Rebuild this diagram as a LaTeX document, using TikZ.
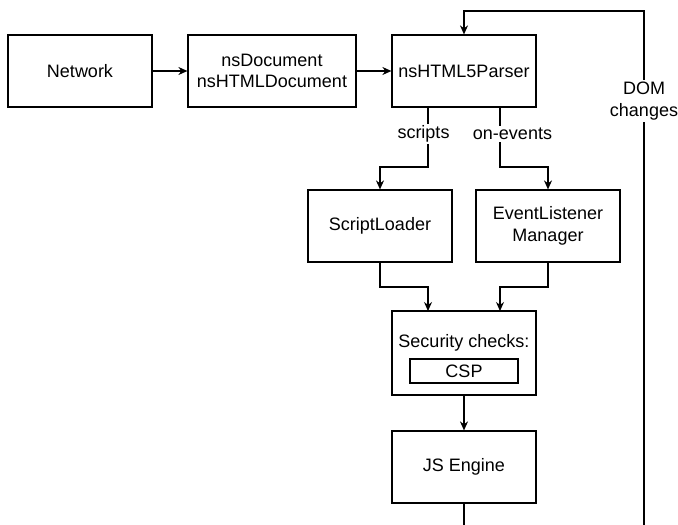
\documentclass[tikz,border=0pt]{standalone}
\usepackage{fontspec}
\setmainfont{Liberation Sans}
\usetikzlibrary{arrows.meta}
\begin{document}
\begin{tikzpicture}[x=1pt,y=-1pt,
  txt/.style={font=\fontsize{18}{21.6}\selectfont, align=center, inner sep=0pt},
  box/.style={txt, draw, line width=1.2pt, minimum width=144pt, minimum height=72pt},
  conn/.style={line width=1.2pt, -{Stealth[length=9pt,width=8pt]}},
  lbl/.style={txt, fill=white, inner sep=2pt}
]
\useasboundingbox (0,0) rectangle (678,525);
\clip (0,0) rectangle (678,525);

\node[box] (net) at (80,71) {Network};
\node[box, minimum width=168pt] (doc) at (272,71) {nsDocument\\nsHTMLDocument};
\node[box] (parser) at (464,71) {nsHTML5Parser};
\node[box] (sl) at (380,226) {ScriptLoader};
\node[box] (el) at (548,226) {EventListener\\Manager};
\node[box, minimum height=84pt] (sec) at (464,353) {};
\node[txt] (sectxt) at (464,343) {Security checks:};
\node[txt, draw, line width=1.2pt, minimum width=108pt, minimum height=24pt] (csp) at (464,371) {CSP};
\node[box] (js) at (464,467) {JS Engine};

\coordinate (pL) at (428,107);
\coordinate (pR) at (500,107);
\coordinate (sL) at (428,311);
\coordinate (sR) at (500,311);
\coordinate (b1) at (464,545);
\coordinate (b2) at (644,545);
\coordinate (t1) at (644,11);
\coordinate (t2) at (464,11);

\draw[conn] (net) -- (doc);
\draw[conn] (doc) -- (parser);
\draw[conn] (pL) |- (380,167) -- (sl.north);
\draw[conn] (pR) |- (548,167) -- (el.north);
\draw[conn] (sl.south) |- (428,287) -- (sL);
\draw[conn] (el.south) |- (500,287) -- (sR);
\draw[conn] (sec) -- (js);
\draw[conn] (js.south) -- (b1) -- (b2) -- (t1) -- (t2) -- (parser.north);

\node[lbl] (lscripts) at (423.5,134) {scripts};
\node[lbl] (levents) at (512.5,134) {on-events};
\node[lbl] (ldom) at (644,101) {DOM\\changes};
\end{tikzpicture}
\end{document}
